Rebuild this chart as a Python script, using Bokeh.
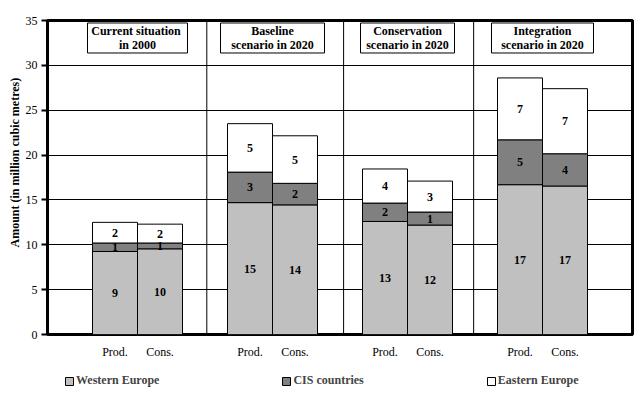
from bokeh.plotting import figure
from bokeh.layouts import column
from bokeh.models import (ColumnDataSource, FixedTicker, Span, Legend, LegendItem,
                          Range1d, Title)
from bokeh.core.properties import value
from bokeh.embed import file_html
from bokeh.resources import INLINE

# ---- data ----
title_line1 = ["Current  situation", "Baseline", "Conservation", "Integration"]
title_line2 = ["in 2000", "scenario in 2020", "scenario in 2020", "scenario in 2020"]
bar_kinds = ["Prod.", "Cons."]
series_names = ["Western Europe", "CIS countries", "Eastern Europe"]
western = [9.25, 9.55, 14.7, 14.45, 12.6, 12.2, 16.7, 16.55]
cis = [0.95, 0.65, 3.4, 2.4, 2.05, 1.45, 5.0, 3.6]
eastern = [2.3, 2.1, 5.4, 5.3, 3.8, 3.45, 6.9, 7.25]
y_ticks = [0, 5, 10, 15, 20, 25, 30, 35]
y_title = "Amount (in million cubic metres)"

# ---- styling ----
FONT = "Liberation Serif"
colors = ["#C0C0C0", "#808080", "#FFFFFF"]
n_groups = len(title_line1)
slots_per_group = 3
separators = [3.54, 6.58, 9.47]
box_widths = [100, 104, 94, 102]

xs = [g * slots_per_group + 1.5 + k for g in range(n_groups) for k in range(len(bar_kinds))]
kinds = [bar_kinds[k] for g in range(n_groups) for k in range(len(bar_kinds))]

src = ColumnDataSource(dict(x=xs, west=western, cis=cis, east=eastern))

p = figure(width=636, height=370,
           x_range=Range1d(0, n_groups * slots_per_group + 1),
           y_range=Range1d(0, 35),
           output_backend="svg", toolbar_location=None,
           min_border_left=47, min_border_right=4, min_border_top=20,
           min_border_bottom=36)
p.background_fill_color = "white"
p.border_fill_color = "white"
p.outline_line_color = "black"
p.outline_line_width = 3

renderers = p.vbar_stack(["west", "cis", "east"], x="x", width=1.0, source=src,
                         fill_color=colors, line_color="black", line_width=1)

# segment labels
lx, ly, lt = [], [], []
for i, x in enumerate(xs):
    bottom = 0.0
    for vals in (western, cis, eastern):
        v = vals[i]
        lx.append(x)
        ly.append(bottom + v / 2)
        lt.append(f"{v:.0f}")
        bottom += v
p.text(x=lx, y=ly, text=lt, text_font=value(FONT), text_font_style="bold",
       text_font_size="12px", text_align="center", text_baseline="middle",
       text_color="black")

# separators
for s in separators:
    p.add_layout(Span(location=s, dimension="height", line_color="black", line_width=1))

# title boxes
gx = [g * slots_per_group + 2 for g in range(n_groups)]
p.rect(x=gx, y=[33.05] * n_groups, width=box_widths, height=30,
       width_units="screen", height_units="screen",
       fill_color="white", line_color="black", line_width=1)
p.text(x=gx, y=[33.8] * n_groups, text=title_line1, text_font=value(FONT),
       text_font_style="bold", text_font_size="12px", text_align="center",
       text_baseline="middle", text_color="black")
p.text(x=gx, y=[32.29] * n_groups, text=title_line2, text_font=value(FONT),
       text_font_style="bold", text_font_size="12px", text_align="center",
       text_baseline="middle", text_color="black")

# axes
p.xgrid.visible = False
p.ygrid.grid_line_color = "black"
p.ygrid.grid_line_width = 1
p.ygrid.ticker = FixedTicker(ticks=y_ticks)

ya = p.yaxis[0]
ya.ticker = FixedTicker(ticks=y_ticks)
ya.axis_line_width = 3
ya.major_tick_line_width = 2
ya.major_tick_out = 6
ya.major_tick_in = 0
ya.minor_tick_line_color = None
ya.major_label_standoff = 4
ya.major_label_text_font = FONT
ya.major_label_text_font_size = "12px"
ya.major_label_text_color = "black"

p.add_layout(Title(text=y_title, align="left", offset=87, standoff=2,
                   text_font=FONT, text_font_style="bold", text_font_size="12px",
                   text_color="black"), "left")

xa = p.xaxis[0]
xa.ticker = FixedTicker(ticks=xs)
xa.major_label_overrides = {x: k for x, k in zip(xs, kinds)}
xa.axis_line_color = None
xa.major_tick_line_color = None
xa.major_tick_out = 0
xa.major_tick_in = 0
xa.minor_tick_line_color = None
xa.major_label_standoff = 10
xa.major_label_text_font = FONT
xa.major_label_text_font_size = "12px"
xa.major_label_text_color = "black"

# legend strip below the chart (swatch renderers sit outside the visible range)
q = figure(width=636, height=24, x_range=Range1d(0, 1), y_range=Range1d(0, 1),
           output_backend="svg", toolbar_location=None,
           min_border_left=0, min_border_right=0, min_border_top=0, min_border_bottom=0)
q.axis.visible = False
q.grid.visible = False
q.outline_line_color = None
q.background_fill_color = "white"
q.border_fill_color = "white"
swatches = [q.vbar(x=[-5.0], top=[0.0], width=1, fill_color=c, line_color="black")
            for c in colors]
legend = Legend(items=[LegendItem(label=n, renderers=[r]) for n, r in zip(series_names, swatches)],
                location=(17, 6), orientation="horizontal",
                glyph_width=10, glyph_height=10, label_standoff=2,
                label_width=0, label_height=12, label_text_font=FONT,
                label_text_font_style="bold", label_text_font_size="12px",
                padding=0, margin=0, spacing=122,
                border_line_color=None, background_fill_alpha=0)
q.add_layout(legend, "center")

layout = column(p, q, spacing=0)
open("out.html", "w").write(file_html(layout, INLINE))
